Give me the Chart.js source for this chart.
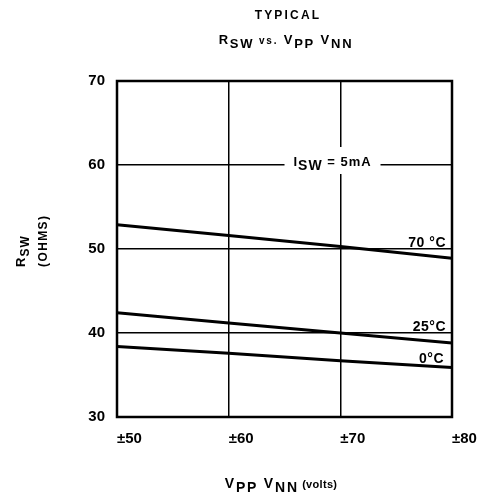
<!DOCTYPE html>
<html><head><meta charset="utf-8">
<script src="https://cdn.jsdelivr.net/npm/chart.js@4/dist/chart.umd.min.js"></script>
<style>html,body{margin:0;padding:0;background:#fff}#wrap{width:477px;height:497px}</style>
</head><body><div id="wrap"><canvas id="c" width="477" height="497"></canvas></div>
<script>
const voltages = [50, 60, 70, 80];
const r70 = [52.9, 51.6, 50.3, 48.9];
const r25 = [42.4, 41.2, 40.0, 38.8];
const r0 = [38.4, 37.6, 36.7, 35.9];
const seriesLabels = ['70 °C', '25°C', '0°C'];
const yTicks = [30, 40, 50, 60, 70];
const xTickLabels = {50:'±50', 60:'±60', 70:'±70', 80:'±80'};
const FONT = '"Liberation Sans", Arial, sans-serif';

function pts(arr){ return voltages.map((v,i)=>({x:v,y:arr[i]})); }

function drawSub(ctx, parts, x, y, align, ls){
  // parts: [text, isSub, size, spacing?]
  let total = 0;
  parts.forEach(p=>{ ctx.letterSpacing = (p[3]!==undefined?p[3]:(ls||0))+'px'; ctx.font = 'bold '+p[2]+'px '+FONT; total += ctx.measureText(p[0]).width; });
  let cx = align==='center' ? x-total/2 : x;
  ctx.textAlign='left'; ctx.textBaseline='alphabetic';
  parts.forEach(p=>{ ctx.letterSpacing = (p[3]!==undefined?p[3]:(ls||0))+'px'; ctx.font='bold '+p[2]+'px '+FONT; ctx.fillText(p[0], cx, y + (p[1]?4:0)); cx += ctx.measureText(p[0]).width; });
  ctx.letterSpacing='0px';
}

const annot = {
  id:'annot',
  beforeDatasetsDraw(chart){
    const ctx = chart.ctx, xs = chart.scales.x, ys = chart.scales.y;
    ctx.save();
    const cx = xs.getPixelForValue(69.3), cy = ys.getPixelForValue(60);
    ctx.fillStyle='#fff';
    ctx.fillRect(cx-48, cy-18, 96, 27);
    ctx.fillStyle='#000';
    drawSub(ctx, [['I',false,13],['SW',true,14],[' = 5mA',false,13]], cx, cy+1, 'center', 1);
    ctx.restore();
  },
  afterDraw(chart){
    const ctx = chart.ctx;
    ctx.save();
    ctx.fillStyle='#000';
    const a = chart.chartArea;
    ctx.strokeStyle='#000'; ctx.lineWidth=2.5;
    ctx.strokeRect(a.left, a.top, a.right-a.left, a.bottom-a.top);
    // series labels
    ctx.font='bold 14px '+FONT; ctx.textAlign='right'; ctx.textBaseline='alphabetic';
    ctx.letterSpacing='0.5px';
    ctx.fillText(seriesLabels[0], 446, 247);
    ctx.fillText(seriesLabels[1], 446, 331);
    ctx.fillText(seriesLabels[2], 444, 363);
    ctx.letterSpacing='0px';
    // titles
    drawSub(ctx, [['TYPICAL',false,12]], 288, 19, 'center', 2.2);
    drawSub(ctx, [['R',false,13],['SW',true,13],[' ',false,10],['vs.',false,10],[' V',false,13],['PP',true,13],[' V',false,13],['NN',true,13]], 286, 44, 'center', 1.8);
    drawSub(ctx, [['V',false,14],['PP',true,14],[' V',false,14],['NN',true,14],[' (volts)',false,11,0.3]], 281, 488, 'center', 1.8);
    // y title rotated
    ctx.save();
    ctx.translate(25, 267); ctx.rotate(-Math.PI/2);
    drawSub(ctx, [['R',false,13],['SW',true,12]], 0, 0, 'left', 1);
    ctx.restore();
    ctx.save();
    ctx.translate(47, 267); ctx.rotate(-Math.PI/2);
    drawSub(ctx, [['(OHMS)',false,12]], 0, 0, 'left', 1.4);
    ctx.restore();
    ctx.restore();
  }
};

const ds = (lab, arr)=>({label:lab, data:pts(arr), borderColor:'#000', borderWidth:3, pointRadius:0, tension:0, fill:false});

new Chart(document.getElementById('c'), {
  type:'line',
  data:{datasets:[ds(seriesLabels[0], r70), ds(seriesLabels[1], r25), ds(seriesLabels[2], r0)]},
  options:{
    responsive:false, animation:false, devicePixelRatio:1,
    layout:{padding:{left:0, right:25, top:81, bottom:0}},
    plugins:{legend:{display:false}, tooltip:{enabled:false}, title:{display:false}},
    scales:{
      x:{type:'linear', min:50, max:80,
        afterBuildTicks(s){ s.ticks = voltages.map(v=>({value:v})); },
        afterFit(s){ s.height = 80; s.paddingLeft = 0; s.paddingRight = 0; },
        grid:{color:'#000', lineWidth:1.5, drawTicks:false},
        border:{display:false},
        ticks:{padding:13, align:'start', color:'#000', font:{family:FONT, size:15, weight:'bold'}, maxRotation:0,
          callback:(v)=>xTickLabels[v]}
      },
      y:{type:'linear', min:30, max:70,
        afterBuildTicks(s){ s.ticks = yTicks.map(v=>({value:v})); },
        afterFit(s){ s.width = 117; s.paddingTop = 0; s.paddingBottom = 0; },
        grid:{color:'#000', lineWidth:1.5, drawTicks:false},
        border:{display:false},
        ticks:{padding:12, color:'#000', font:{family:FONT, size:15, weight:'bold'}}
      }
    }
  },
  plugins:[annot]
});
</script></body></html>
